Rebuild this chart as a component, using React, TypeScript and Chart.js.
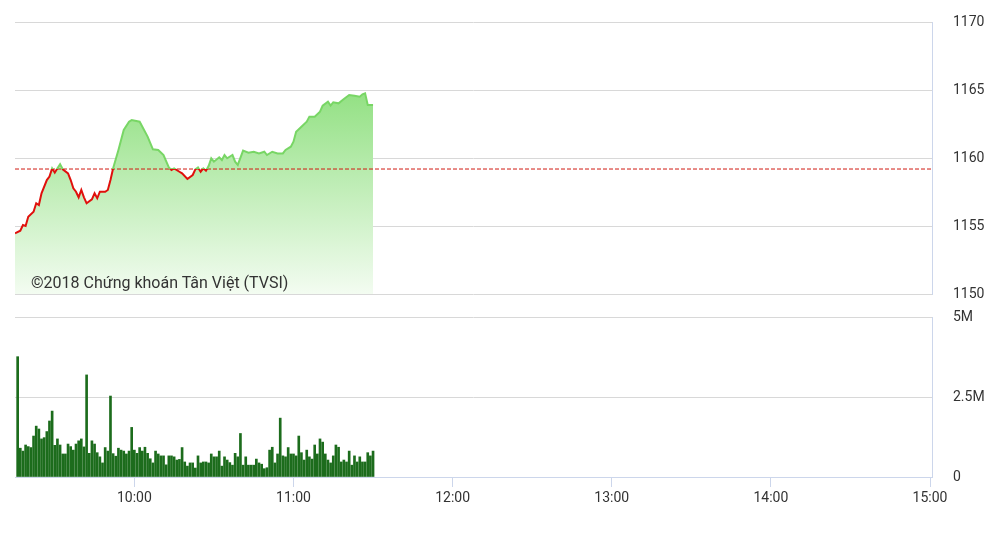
import React, { useEffect, useRef } from "react";
import { Chart, registerables } from "chart.js";

Chart.register(...registerables);

// ---------- data ----------
const REF_PRICE = 1159.19;

const PRICE_TIMES = [
  "9:15", "9:17", "9:18", "9:19", "9:20", "9:22", "9:23", "9:24", "9:25", "9:27",
  "9:28", "9:29", "9:30", "9:31", "9:32", "9:33", "9:35", "9:36", "9:37", "9:38",
  "9:39", "9:40", "9:41", "9:42", "9:44", "9:45", "9:46", "9:47", "9:49", "9:50",
  "9:51", "9:52", "9:54", "9:56", "9:58", "9:59", "10:02", "10:05", "10:07", "10:09",
  "10:11", "10:13", "10:14", "10:15", "10:17", "10:18", "10:20", "10:22", "10:23", "10:24",
  "10:25", "10:26", "10:27", "10:28", "10:29", "10:30", "10:32", "10:33", "10:34", "10:35",
  "10:37", "10:38", "10:39", "10:41", "10:43", "10:45", "10:47", "10:49", "10:50", "10:52",
  "10:54", "10:56", "10:57", "10:59", "11:00", "11:01", "11:03", "11:05", "11:06", "11:08",
  "11:10", "11:11", "11:13", "11:14", "11:15", "11:17", "11:19", "11:21", "11:23", "11:25",
  "11:26", "11:27", "11:28", "11:30",
];

const PRICES = [
  1154.46, 1154.65, 1155.07, 1155.0, 1155.68, 1156.05, 1156.67, 1156.54, 1157.4, 1158.38,
  1158.63, 1159.24, 1158.92, 1159.24, 1159.54, 1159.17, 1158.87, 1158.38, 1157.77, 1157.52,
  1157.11, 1157.65, 1157.11, 1156.67, 1156.96, 1157.4, 1157.04, 1157.52, 1157.52, 1157.65,
  1158.38, 1159.24, 1160.59, 1162.06, 1162.67, 1162.79, 1162.67, 1161.57, 1160.64, 1160.59,
  1160.22, 1159.31, 1159.12, 1159.24, 1158.99, 1158.87, 1158.46, 1158.75, 1159.17, 1159.31,
  1158.99, 1159.24, 1159.07, 1159.41, 1159.98, 1159.73, 1160.05, 1159.85, 1160.22, 1159.98,
  1160.22, 1159.73, 1159.49, 1160.54, 1160.39, 1160.46, 1160.34, 1160.46, 1160.22, 1160.46,
  1160.34, 1160.34, 1160.59, 1160.83, 1161.2, 1161.93, 1162.3, 1162.67, 1163.04, 1163.04,
  1163.4, 1163.85, 1164.14, 1163.85, 1164.1, 1164.02, 1164.34, 1164.63, 1164.58, 1164.51,
  1164.68, 1164.76, 1163.9, 1163.9,
];

// one bar per minute starting at this time (millions of shares)
const VOLUME_FIRST_TIME = "9:16";
const VOLUMES_M = [
  3.76, 0.9, 0.81, 1.0, 0.95, 0.92, 1.28, 1.59, 1.5, 1.19,
  1.23, 1.42, 1.75, 2.06, 0.99, 1.19, 1.0, 0.72, 0.72, 1.03,
  0.95, 0.84, 1.03, 1.13, 1.19, 0.94, 3.19, 0.74, 1.13, 1.03,
  0.76, 0.63, 0.44, 0.92, 0.81, 2.53, 0.73, 0.65, 0.9, 0.84,
  0.81, 0.72, 0.81, 1.55, 0.84, 0.74, 0.92, 0.81, 0.93, 0.74,
  0.57, 0.44, 0.81, 0.72, 0.66, 0.66, 0.38, 0.66, 0.66, 0.63,
  0.53, 0.55, 0.92, 0.47, 0.34, 0.44, 0.44, 0.28, 0.66, 0.44,
  0.47, 0.47, 0.44, 0.72, 0.63, 0.63, 0.81, 0.34, 0.63, 0.53,
  0.45, 0.37, 0.74, 0.63, 1.36, 0.37, 0.63, 0.37, 0.37, 0.37,
  0.56, 0.44, 0.4, 0.26, 0.29, 0.84, 0.93, 0.44, 0.72, 1.84,
  0.66, 0.63, 0.92, 0.72, 0.72, 0.66, 1.28, 0.76, 0.53, 0.84,
  0.63, 0.56, 1.0, 0.72, 1.19, 1.09, 0.72, 0.53, 0.44, 0.66,
  1.0, 0.93, 0.47, 0.53, 0.47, 0.81, 0.37, 0.66, 0.47, 0.63,
  0.47, 0.47, 0.76, 0.66, 0.81,
];

const PRICE_TICKS = [1150, 1155, 1160, 1165, 1170];
const VOLUME_TICKS = [0, 2.5, 5];
const TIME_TICKS = ["10:00", "11:00", "12:00", "13:00", "14:00", "15:00"];
const SESSION_START = "9:15";
const SESSION_END = "15:00";
const COPYRIGHT = "©2018 Chứng khoán Tân Việt (TVSI)";

// ---------- helpers ----------
const toMin = (s: string) => {
  const [h, m] = s.split(":").map(Number);
  return h * 60 + m;
};
const fmtMin = (v: number) =>
  `${Math.floor(v / 60)}:${String(Math.round(v % 60)).padStart(2, "0")}`;

const X_MIN = toMin(SESSION_START);
const X_MAX = toMin(SESSION_END) + 0.75;

const GREEN_LINE = "#78d665";
const RED_LINE = "#e0100c";
const GRID = "#d8d8d8";
const AXIS = "#ccd6eb";
const LABEL_FONT = { family: "Roboto", size: 14 };
const LABEL_COLOR = "#333333";

function lineGradient(chart: any) {
  const { chartArea, scales } = chart;
  if (!chartArea || !scales.y) return GREEN_LINE;
  const yRef = scales.y.getPixelForValue(REF_PRICE);
  const f = Math.min(1, Math.max(0, (yRef - chartArea.top) / (chartArea.bottom - chartArea.top)));
  const g = chart.ctx.createLinearGradient(0, chartArea.top, 0, chartArea.bottom);
  g.addColorStop(0, GREEN_LINE);
  g.addColorStop(f, GREEN_LINE);
  g.addColorStop(f, RED_LINE);
  g.addColorStop(1, RED_LINE);
  return g;
}

function fillGradient(chart: any) {
  const { chartArea } = chart;
  if (!chartArea) return "rgba(150,225,135,0.6)";
  const g = chart.ctx.createLinearGradient(0, chartArea.top, 0, chartArea.bottom);
  g.addColorStop(0, "rgb(113,215,93)");
  g.addColorStop(1, "rgb(243,252,241)");
  return g;
}

// right-hand value axis: labels pushed 21px right of the plot edge via an invisible tick mark
const rightAxis = (ticks: number[], fmt: (v: number) => string) => ({
  position: "right" as const,
  min: ticks[0],
  max: ticks[ticks.length - 1],
  afterBuildTicks: (s: any) => {
    s.ticks = ticks.map((v) => ({ value: v }));
  },
  afterFit: (s: any) => {
    s.width = 66;
  },
  grid: { color: GRID, drawTicks: true, tickLength: 21, tickColor: "rgba(0,0,0,0)" },
  border: { display: true, color: AXIS },
  ticks: {
    padding: 0,
    color: LABEL_COLOR,
    font: LABEL_FONT,
    callback: (v: any) => fmt(Number(v)),
  },
});

export default function App() {
  const topRef = useRef<HTMLCanvasElement>(null);
  const botRef = useRef<HTMLCanvasElement>(null);

  useEffect(() => {
    const priceData = PRICE_TIMES.map((t, i) => ({ x: toMin(t), y: PRICES[i] }));
    const volStart = toMin(VOLUME_FIRST_TIME);
    const volData = VOLUMES_M.map((v, i) => ({ x: volStart + i, y: v }));

    const top = new Chart(topRef.current as HTMLCanvasElement, {
      type: "line",
      data: {
        datasets: [
          {
            data: priceData,
            borderColor: (ctx: any) => lineGradient(ctx.chart),
            backgroundColor: (ctx: any) => fillGradient(ctx.chart),
            fill: "start",
            borderWidth: 2,
            pointRadius: 0,
            tension: 0,
            order: 0,
          } as any,
          {
            data: [
              { x: X_MIN, y: REF_PRICE },
              { x: X_MAX, y: REF_PRICE },
            ],
            borderColor: "#d01a12",
            borderWidth: 1,
            borderDash: [4, 2],
            pointRadius: 0,
            fill: false,
            order: 1,
          },
        ],
      },
      options: {
        animation: false,
        responsive: false,
        events: [],
        layout: { padding: { top: 22, bottom: 16, left: 15, right: 0 } },
        plugins: {
          legend: { display: false },
          tooltip: { enabled: false },
          filler: { drawTime: "beforeDatasetsDraw" },
        } as any,
        scales: {
          x: { type: "linear", min: X_MIN, max: X_MAX, display: false },
          y: rightAxis(PRICE_TICKS, (v) => String(v)) as any,
        },
      },
    });

    const bot = new Chart(botRef.current as HTMLCanvasElement, {
      type: "bar",
      data: {
        datasets: [
          {
            data: volData,
            backgroundColor: "#1c6c1c",
            barThickness: 2,
            grouped: false,
          } as any,
        ],
      },
      options: {
        animation: false,
        responsive: false,
        events: [],
        layout: { padding: { top: 17, bottom: 53, left: 15, right: 0 } },
        plugins: { legend: { display: false }, tooltip: { enabled: false } },
        scales: {
          x: {
            type: "linear",
            min: X_MIN,
            max: X_MAX,
            offset: false,
            afterBuildTicks: (s: any) => {
              s.ticks = TIME_TICKS.map((t) => ({ value: toMin(t) }));
            },
            afterFit: (s: any) => {
              s.height = 30;
            },
            grid: { drawOnChartArea: false, color: AXIS, tickLength: 10, offset: false },
            border: { display: true, color: AXIS },
            ticks: {
              padding: 3,
              color: LABEL_COLOR,
              font: LABEL_FONT,
              maxRotation: 0,
              autoSkip: false,
              callback: (v: any) => fmtMin(Number(v)),
            },
          },
          y: rightAxis(VOLUME_TICKS, (v) => (v === 0 ? "0" : `${v}M`)) as any,
        },
      },
    });

    return () => {
      top.destroy();
      bot.destroy();
    };
  }, []);

  return (
    <div
      style={{
        position: "absolute",
        left: 0,
        top: 0,
        width: 998,
        height: 560,
        background: "#ffffff",
        overflow: "hidden",
      }}
    >
      <canvas
        ref={topRef}
        width={998}
        height={310}
        style={{ position: "absolute", left: 0, top: 0, display: "block" }}
      />
      <canvas
        ref={botRef}
        width={998}
        height={260}
        style={{ position: "absolute", left: 0, top: 300, display: "block" }}
      />
      <div
        style={{
          position: "absolute",
          left: 31,
          top: 273,
          font: "16px Roboto",
          lineHeight: "20px",
          color: "#333333",
          whiteSpace: "nowrap",
          pointerEvents: "none",
        }}
      >
        {COPYRIGHT}
      </div>
    </div>
  );
}
